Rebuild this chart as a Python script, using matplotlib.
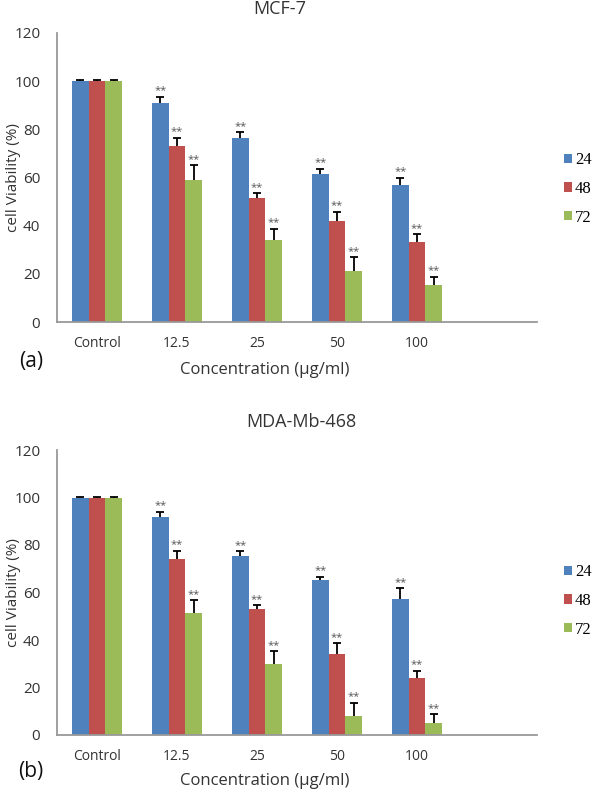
import matplotlib.pyplot as plt
import numpy as np

# Concentrations (last slot left empty, as in the original Excel chart)
categories = ['Control', '12.5', '25', '50', '100', '']
hours = ['24', '48', '72']
colors = ['#4F81BD', '#C0504D', '#9BBB59']

# MCF-7 cell viability (%) and upper error
mcf7_24 = [100, 90.9, 76.5, 61.4, 56.7]
mcf7_48 = [100, 72.9, 51.3, 41.9, 33.2]
mcf7_72 = [100, 58.9, 33.9, 21.3, 15.2]
mcf7_err24 = [0.3, 2.7, 2.2, 2.1, 3.3]
mcf7_err48 = [0.3, 3.6, 2.2, 3.9, 3.3]
mcf7_err72 = [0.3, 6.1, 4.7, 5.5, 3.6]

# MDA-Mb-468 cell viability (%) and upper error
mda_24 = [100, 91.6, 75.4, 65.3, 57.4]
mda_48 = [100, 74.0, 52.9, 34.2, 23.9]
mda_72 = [100, 51.3, 30.1, 8.0, 5.0]
mda_err24 = [0.3, 2.5, 1.9, 1.3, 4.4]
mda_err48 = [0.3, 3.6, 1.7, 4.4, 3.2]
mda_err72 = [0.3, 5.4, 5.1, 5.6, 3.8]

plt.rcParams['font.family'] = ['Open Sans', 'DejaVu Sans']

fig = plt.figure(figsize=(5.96, 7.93), dpi=100)
W, H = 596, 793


def plot_panel(ax, series, errors, title, tag, title_xy, tag_y, xlab_y, leg_y):
    width = 0.21
    x = np.arange(len(series[0]))
    for i, (vals, errs) in enumerate(zip(series, errors)):
        pos = x + (i - 1) * width
        ax.bar(pos, vals, width, color=colors[i], label=hours[i])
        eb = ax.errorbar(pos, vals, yerr=[np.zeros(len(errs)), errs], fmt='none',
                         ecolor='black', elinewidth=1.3, capsize=3, capthick=1.3)
        eb[1][0].set_visible(False)  # only the upper cap, like Excel "plus"
        # significance marks on treated groups
        for xp, v, e in zip(pos[1:], vals[1:], errs[1:]):
            ax.text(xp, v + e + 0.2, '**', ha='center', va='bottom',
                    fontsize=8, color='#555555')

    ax.set_xlim(-0.5, len(categories) - 0.5)
    ax.set_ylim(0, 120)
    ax.set_yticks(range(0, 121, 20))
    ax.set_xticks(range(len(categories)))
    ax.set_xticklabels(categories)
    ax.tick_params(axis='y', length=0, labelsize=11, colors='#333333', pad=12)
    ax.tick_params(axis='x', length=0, labelsize=10, colors='#333333', pad=10)
    for s in ['top', 'right']:
        ax.spines[s].set_visible(False)
    for s in ['left', 'bottom']:
        ax.spines[s].set_color('#999999')
        ax.spines[s].set_linewidth(1.3)
    ax.set_ylabel('cell Viability (%)', fontsize=11, color='#333333', va='center')
    ax.yaxis.set_label_coords((14 - 57) / 480, 0.5)
    ax.set_xlabel('Concentration (µg/ml)', fontsize=12, color='#333333', va='center')
    ax.xaxis.set_label_coords((265 - 57) / 480, xlab_y)
    fig.text(title_xy[0] / W, 1 - title_xy[1] / H, title, fontsize=13,
             ha='center', va='center', color='#333333')
    fig.text(31 / W, 1 - tag_y / H, tag, fontsize=15,
             ha='center', va='center', color='#111111')
    ax.legend(loc='center left', bbox_to_anchor=((564 - 57) / 480, leg_y), frameon=False,
              handlelength=0.5, handleheight=0.5, handletextpad=0.15,
              labelspacing=0.75, borderaxespad=0, borderpad=0,
              prop={'family': 'Liberation Serif', 'size': 12})


ax1 = fig.add_axes([57 / W, 1 - 322 / H, 480 / W, 289 / H])
ax2 = fig.add_axes([57 / W, 1 - 735 / H, 480 / W, 285 / H])

plot_panel(ax1, [mcf7_24, mcf7_48, mcf7_72], [mcf7_err24, mcf7_err48, mcf7_err72],
           'MCF-7', '(a)', (280, 9), 362, (322 - 370) / 289, (322 - 189) / 289)
plot_panel(ax2, [mda_24, mda_48, mda_72], [mda_err24, mda_err48, mda_err72],
           'MDA-Mb-468', '(b)', (301, 422), 772, (735 - 781) / 285, (735 - 601) / 285)

fig.savefig('out.png', dpi=100)
